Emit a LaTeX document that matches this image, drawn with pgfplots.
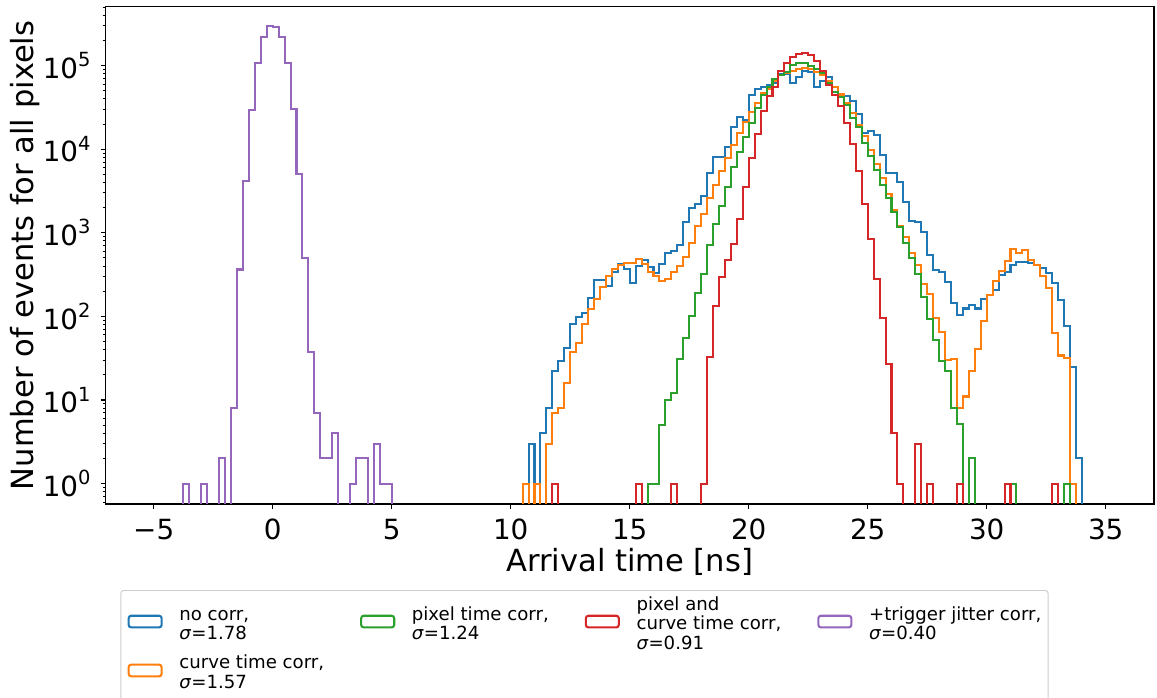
\documentclass[border=0pt]{standalone}
\usepackage{pgfplots}
\pgfplotsset{compat=1.18}
\usepackage{fontspec}
\setmainfont{DejaVu Sans}
\definecolor{tabblue}{HTML}{1F77B4}
\definecolor{taborange}{HTML}{FF7F0E}
\definecolor{tabgreen}{HTML}{2CA02C}
\definecolor{tabred}{HTML}{D62728}
\definecolor{tabpurple}{HTML}{9467BD}
\newcommand{\pw}[1]{\raisebox{0.42em}{\fontsize{14.6}{15}\selectfont #1}}
\begin{document}
\begin{tikzpicture}
\useasboundingbox (-79.05pt,-145.5pt) rectangle (788.7pt,378pt);
\begin{axis}[
  scale only axis, width=786.45pt, height=372.98pt,
  ymode=log, xmin=-7.03, xmax=37.03, ymin=0.57, ymax=5.05e5,
  axis line style={line width=0.83pt},
  tick style={black, line width=0.83pt},
  minor tick style={black, line width=0.63pt},
  major tick length=3.65pt, minor tick length=2.1pt,
  tick align=outside, xtick pos=left, ytick pos=left,
  xtick={-5,0,5,10,15,20,25,30,35},
  xticklabels={−5,0,5,10,15,20,25,30,35},
  ytick={1,10,100,1000,10000,100000},
  yticklabels={10\pw{0},10\pw{1},10\pw{2},10\pw{3},10\pw{4},10\pw{5}},
  minor ytick={0.6,0.7,0.8,0.9,2,3,4,5,6,7,8,9,20,30,40,50,60,70,80,90,200,300,400,500,600,700,800,900,2000,3000,4000,5000,6000,7000,8000,9000,20000,30000,40000,50000,60000,70000,80000,90000,200000,300000,400000,500000},
  xticklabel style={font=\fontsize{20.85}{25}\selectfont, inner sep=0pt, anchor=north, yshift=-7.3pt},
  yticklabel style={font=\fontsize{20.85}{25}\selectfont, inner sep=0pt, anchor=east, xshift=-7.3pt},
  every axis x label/.style={at={(axis description cs:0.5,-0.1367)}, anchor=base, font=\fontsize{22.9}{27}\selectfont},
  every axis y label/.style={at={(axis description cs:-0.0767,0.5)}, rotate=90, anchor=center, font=\fontsize{22.9}{27}\selectfont},
  xlabel={Arrival time [ns]},
  ylabel={Number of events for all pixels},
  legend columns=4,
  legend cell align=left,
  legend image code/.code={\draw[#1] (0pt,-1.2pt) rectangle (24.8pt,7.6pt);},
  legend style={at={(0.4569,-0.173)}, anchor=north, draw=black!20, line width=0.7pt, rounded corners=2pt,
    font=\fontsize{13.6}{14.6}\selectfont, inner xsep=5pt, inner ysep=4.5pt,
    nodes={inner sep=0pt, text depth={}},
    /tikz/every odd column/.append style={column sep=12.5pt},
    /tikz/every even column/.append style={column sep=27pt}},
]
\addplot[tabblue, line width=1.56pt, const plot, forget plot] coordinates {
(10.75,0.01)(10.75,3)(11,1)(11.25,4)(11.5,8)(11.75,22)(12,29)(12.25,42)(12.5,82)(12.75,97)(13,109)(13.25,164)(13.5,272)(13.75,272)(14,230)(14.25,342)(14.5,423)(14.75,365)(15,248)(15.25,400)(15.5,472)(15.75,393)(16,327)(16.25,419)(16.5,567)(16.75,611)(17,713)(17.25,1355)(17.5,1958)(17.75,2185)(18,2750)(18.25,5230)(18.5,8000)(18.75,8000)(19,10500)(19.25,18200)(19.5,24400)(19.75,22000)(20,44000)(20.25,53000)(20.5,55000)(20.75,58000)(21,61000)(21.25,80000)(21.5,80000)(21.75,61000)(22,72000)(22.25,85000)(22.5,84000)(22.75,56000)(23,66000)(23.25,72000)(23.5,55000)(23.75,44000)(24,43000)(24.25,38000)(24.5,26000)(24.75,15400)(25,16600)(25.25,14700)(25.5,8500)(25.75,5220)(26,5130)(26.25,4080)(26.5,2350)(26.75,1390)(27,1360)(27.25,1030)(27.5,541)(27.75,358)(28,342)(28.25,259)(28.5,143)(28.75,104)(29,124)(29.25,136)(29.5,124)(29.75,160)(30,180)(30.25,206)(30.5,312)(30.75,342)(31,411)(31.25,450)(31.5,450)(31.75,430)(32,411)(32.25,375)(32.5,327)(32.75,248)(33,157)(33.25,77)(33.5,24.5)(33.75,2)(34,0.01)
};
\addplot[taborange, line width=1.56pt, const plot, forget plot] coordinates {
(10.5,0.01)(10.5,1)(10.75,0.01)(11,1)(11.25,0.01)(11.5,3)(11.75,7)(12,8)(12.25,16)(12.5,37)(12.75,48)(13,82)(13.25,121)(13.5,161)(13.75,226)(14,304)(14.25,365)(14.5,411)(14.75,438)(15,438)(15.25,480)(15.5,423)(15.75,342)(16,304)(16.25,267)(16.5,280)(16.75,340)(17,400)(17.25,516)(17.5,760)(17.75,1200)(18,1675)(18.25,2580)(18.5,3720)(18.75,5520)(19,7760)(19.25,11200)(19.5,15400)(19.75,21300)(20,28000)(20.25,35900)(20.5,46400)(20.75,51800)(21,65900)(21.25,76900)(21.5,80600)(21.75,86700)(22,90000)(22.25,92500)(22.5,90000)(22.75,84300)(23,76000)(23.25,66000)(23.5,56000)(23.75,45000)(24,36000)(24.25,27000)(24.5,19400)(24.75,14400)(25,9750)(25.25,6640)(25.5,4470)(25.75,2900)(26,1870)(26.25,1200)(26.5,895)(26.75,577)(27,411)(27.25,243)(27.5,185)(27.75,95)(28,65)(28.25,30)(28.5,31)(28.75,8)(29,11)(29.25,22)(29.5,41)(29.75,89)(30,180)(30.25,267)(30.5,351)(30.75,462)(31,632)(31.25,577)(31.5,621)(31.75,471)(32,411)(32.25,303)(32.5,216)(32.75,63)(33,34)(33.25,32)(33.5,1)(33.75,0.01)
};
\addplot[tabgreen, line width=1.56pt, const plot, forget plot] coordinates {
(15.75,0.01)(15.75,1)(16,1)(16.25,5)(16.5,10)(16.75,12)(17,31)(17.25,55)(17.5,101)(17.75,188)(18,321)(18.25,713)(18.5,1270)(18.75,2100)(19,3560)(19.25,6170)(19.5,9310)(19.75,14100)(20,20700)(20.25,30700)(20.5,44400)(20.75,54800)(21,68400)(21.25,76900)(21.5,84300)(21.75,101000)(22,108000)(22.25,106000)(22.5,98600)(22.75,90000)(23,80600)(23.25,61200)(23.5,48600)(23.75,42400)(24,33700)(24.25,23400)(24.5,18200)(24.75,11700)(25,8260)(25.25,5620)(25.5,3720)(25.75,2580)(26,1790)(26.25,1180)(26.5,760)(26.75,493)(27,321)(27.25,169)(27.5,94)(27.75,52)(28,29)(28.25,22)(28.5,8)(28.75,5.2)(29,0.01)(29.25,2)(29.5,0.01)(31,1)(31.25,0.01)(33.25,1)(33.5,0.01)
};
\addplot[tabred, line width=1.56pt, const plot, forget plot] coordinates {
(11.75,0.01)(11.75,1)(12,0.01)(15.25,1)(15.5,0.01)(16.75,1)(17,0.01)(18,1)(18.25,33)(18.5,133)(18.75,292)(19,472)(19.25,733)(19.5,1445)(19.75,3500)(20,7760)(20.25,15200)(20.5,28800)(20.75,43200)(21,55800)(21.25,86800)(21.5,106000)(21.75,125000)(22,137000)(22.25,142000)(22.5,133000)(22.75,114000)(23,86800)(23.25,58500)(23.5,44400)(23.75,32700)(24,20700)(24.25,11500)(24.5,5500)(24.75,2200)(25,840)(25.25,283)(25.5,96)(25.75,27)(26,4)(26.25,1)(26.5,0.01)(27,3)(27.25,0.01)(27.5,1)(27.75,0.01)(28.75,1)(29,0.01)(30.75,1)(31,0.01)(32.75,1)(33,0.01)
};
\addplot[tabpurple, line width=1.56pt, const plot, forget plot] coordinates {
(-3.75,0.01)(-3.75,1)(-3.5,0.01)(-3,1)(-2.75,0.01)(-2.25,2)(-2,0.01)(-1.75,8)(-1.5,363)(-1.25,4130)(-1,29200)(-0.75,106000)(-0.5,218000)(-0.25,295000)(0,290000)(0.25,218000)(0.5,106000)(0.75,29800)(1,5070)(1.25,495)(1.5,37)(1.75,7)(2,2)(2.25,2)(2.5,4)(2.75,0.01)(3.25,1)(3.5,2)(3.75,2)(4,0.01)(4.25,3)(4.5,1)(5,0.01)
};
\addlegendimage{tabblue, line width=1.56pt}
\addlegendentry{\begin{tabular}{@{}l@{}}no corr,\\\textit{σ}=1.78\end{tabular}}
\addlegendimage{tabgreen, line width=1.56pt}
\addlegendentry{\begin{tabular}{@{}l@{}}pixel time corr,\\\textit{σ}=1.24\end{tabular}}
\addlegendimage{tabred, line width=1.56pt}
\addlegendentry{\begin{tabular}{@{}l@{}}pixel and\\curve time corr,\\\textit{σ}=0.91\end{tabular}}
\addlegendimage{tabpurple, line width=1.56pt}
\addlegendentry{\begin{tabular}{@{}l@{}}+trigger jitter corr,\\\textit{σ}=0.40\end{tabular}}
\addlegendimage{taborange, line width=1.56pt}
\addlegendentry{\begin{tabular}{@{}l@{}}curve time corr,\\\textit{σ}=1.57\end{tabular}}
\end{axis}
\end{tikzpicture}
\end{document}
